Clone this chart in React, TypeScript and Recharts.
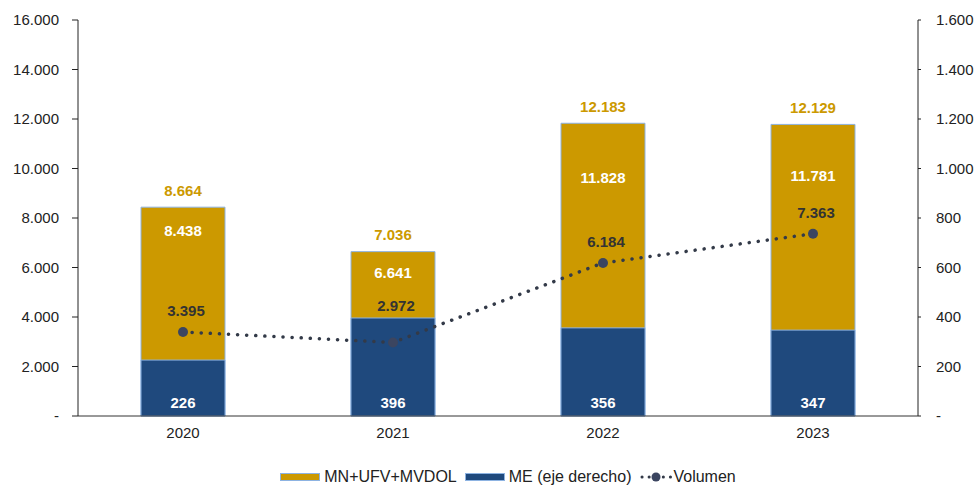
import {
  ComposedChart,
  Bar,
  Line,
  XAxis,
  YAxis,
  Legend,
  LabelList,
} from "recharts";

const years = ["2020", "2021", "2022", "2023"];
const mnValues = [8438, 6641, 11828, 11781];
const meValues = [226, 396, 356, 347];
const totals = [8664, 7036, 12183, 12129];
const volumen = [3395, 2972, 6184, 7363];
const leftTicks = [0, 2000, 4000, 6000, 8000, 10000, 12000, 14000, 16000];
const rightTicks = [0, 200, 400, 600, 800, 1000, 1200, 1400, 1600];

const GOLD = "#cc9900";
const NAVY = "#1f497d";
const EDGE = "#8db3e2";
const LINE = "#333a48";
const FONT = "'Liberation Sans', Arial, sans-serif";
const FS = 15;
const PLOT_H = 396;

// label drop under the bar top for the MN values (placed by hand in the original)
const mnLabelDrop = [23, 21, 54, 51];

const data = years.map((y, i) => ({
  year: y,
  mn: mnValues[i],
  me: meValues[i],
  total: totals[i],
  vol: volumen[i],
}));

function fmt(v: number): string {
  if (v === 0) return "-";
  return String(Math.round(v)).replace(/\B(?=(\d{3})+(?!\d))/g, ".");
}

function txt(x: number, y: number, value: number, fill: string) {
  return (
    <text
      x={x}
      y={y}
      textAnchor="middle"
      dominantBaseline="central"
      fill={fill}
      fontSize={FS}
      fontWeight="bold"
      fontFamily={FONT}
    >
      {fmt(value)}
    </text>
  );
}

const totalLabel = (p: any) => txt(p.x + p.width / 2, p.y - 17, p.value, GOLD);
const mnLabel = (p: any) => txt(p.x + p.width / 2, p.y + mnLabelDrop[p.index], p.value, "#fff");
const meLabel = (p: any) => txt(p.x + p.width / 2, p.y + p.height - 14, p.value, "#fff");
const volLabel = (p: any) => {
  const i = p.index;
  let cy = p.y - 21;
  const meLeft = meValues[i] * 10;
  if (volumen[i] < meLeft) {
    // keep the label clear of the navy bar
    const navyTop = p.y - ((meLeft - volumen[i]) * PLOT_H) / 16000;
    cy = Math.min(cy, navyTop - 12.5);
  }
  return txt(p.x + 3, cy, p.value, "#333");
};

function LegendContent() {
  const item = { display: "flex", alignItems: "center", marginRight: 8 } as const;
  const swatch = (c: string) => ({
    width: 38,
    height: 6,
    background: c,
    border: `1px solid ${EDGE}`,
    marginRight: 4,
  });
  return (
    <div
      style={{
        display: "flex",
        justifyContent: "center",
        alignItems: "center",
        paddingTop: 22,
        paddingLeft: 36,
        fontFamily: FONT,
        fontSize: 16,
        color: "#222",
      }}
    >
      <div style={item}>
        <div style={swatch(GOLD)} />
        <span>MN+UFV+MVDOL</span>
      </div>
      <div style={item}>
        <div style={swatch(NAVY)} />
        <span>ME (eje derecho)</span>
      </div>
      <div style={{ ...item, marginRight: 0 }}>
        <svg width={34} height={10}>
          <line
            x1={3}
            y1={5}
            x2={32}
            y2={5}
            stroke={LINE}
            strokeWidth={3}
            strokeDasharray="0.1 7"
            strokeLinecap="round"
          />
          <circle cx={17} cy={5} r={4.5} fill="#3b4560" />
        </svg>
        <span>Volumen</span>
      </div>
    </div>
  );
}

export default function App() {
  return (
    <div style={{ position: "absolute", left: 0, top: 0, width: 980, height: 487, background: "#fff" }}>
      <ComposedChart
        width={980}
        height={487}
        data={data}
        barGap={-84}
        margin={{ top: 20, right: 0, bottom: 0, left: 0 }}
      >
        <XAxis
          dataKey="year"
          height={30}
          tickLine={false}
          axisLine={{ stroke: "#333" }}
          tick={{ fill: "#222", fontSize: FS, fontFamily: FONT }}
          tickMargin={5}
        />
        <YAxis
          yAxisId="left"
          width={78}
          domain={[0, 16000]}
          ticks={leftTicks}
          interval={0}
          tickFormatter={fmt}
          axisLine={{ stroke: "#222" }}
          tickLine={{ stroke: "#222" }}
          tickSize={6}
          tickMargin={13}
          tick={{ fill: "#222", fontSize: FS, fontFamily: FONT }}
        />
        <YAxis
          yAxisId="right"
          orientation="right"
          width={62}
          domain={[0, 1600]}
          ticks={rightTicks}
          interval={0}
          tickFormatter={fmt}
          axisLine={{ stroke: "#222" }}
          tickLine={{ stroke: "#222" }}
          tickSize={3}
          tickMargin={15}
          tick={{ fill: "#222", fontSize: FS, fontFamily: FONT, textAnchor: "start" }}
        />
        <Legend verticalAlign="bottom" height={41} content={<LegendContent />} />
        <Bar
          yAxisId="left"
          dataKey="mn"
          barSize={84}
          fill={GOLD}
          stroke={EDGE}
          strokeWidth={1}
          isAnimationActive={false}
        >
          <LabelList dataKey="total" content={totalLabel} />
          <LabelList dataKey="mn" content={mnLabel} />
        </Bar>
        <Bar
          yAxisId="right"
          dataKey="me"
          barSize={84}
          fill={NAVY}
          stroke={EDGE}
          strokeWidth={1}
          isAnimationActive={false}
        >
          <LabelList dataKey="me" content={meLabel} />
        </Bar>
        <Line
          yAxisId="left"
          dataKey="vol"
          stroke={LINE}
          strokeWidth={3.5}
          strokeDasharray="0.1 9"
          strokeLinecap="round"
          dot={{ r: 5, fill: "#3b4560", stroke: "none" }}
          activeDot={false}
          isAnimationActive={false}
        >
          <LabelList dataKey="vol" content={volLabel} />
        </Line>
      </ComposedChart>
    </div>
  );
}
